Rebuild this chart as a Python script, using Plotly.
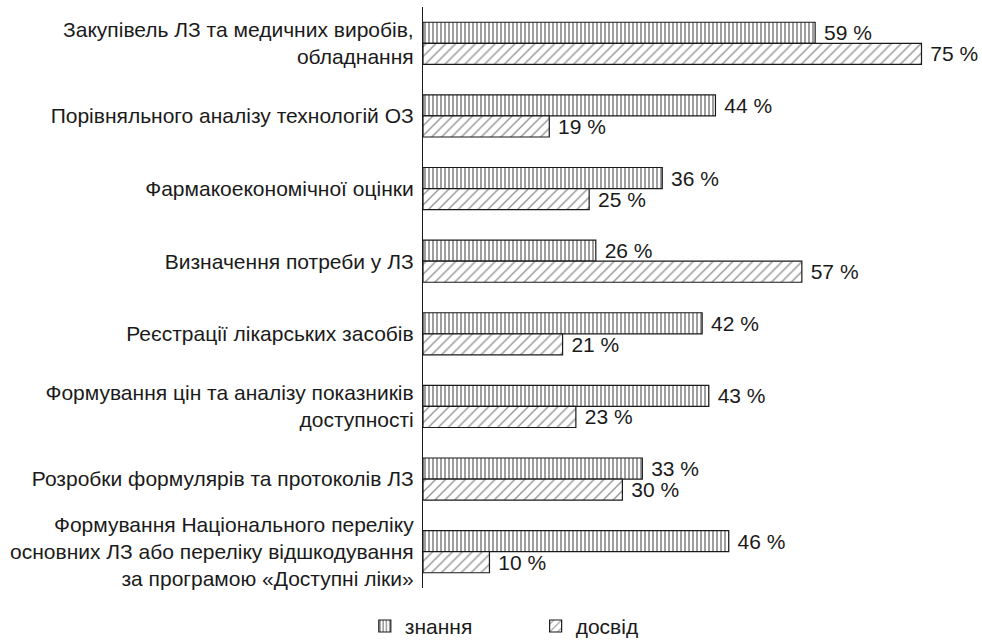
import plotly.graph_objects as go

categories = [
    "Закупівель ЛЗ та медичних виробів,<br>обладнання",
    "Порівняльного аналізу технологій ОЗ",
    "Фармакоекономічної оцінки",
    "Визначення потреби у ЛЗ",
    "Реєстрації лікарських засобів",
    "Формування цін та аналізу показників<br>доступності",
    "Розробки формулярів та протоколів ЛЗ",
    "Формування Національного переліку<br>основних ЛЗ або переліку відшкодування<br>за програмою «Доступні ліки»",
]
knowledge = [59, 44, 36, 26, 42, 43, 33, 46]
experience = [75, 19, 25, 57, 21, 23, 30, 10]
series_names = ["знання", "досвід"]

font_family = "Liberation Sans, Arial, sans-serif"
fs = 21

fig = go.Figure()
fig.add_trace(go.Bar(
    y=categories, x=knowledge, orientation="h", name=series_names[0] + "\u00a0" * 10,
    marker=dict(color="white", line=dict(color="#1a1a1a", width=1.2),
                pattern=dict(shape="|", size=4, solidity=0.45, fgcolor="#2a2a2a", bgcolor="white")),
    text=[f" {v} %" for v in knowledge], textposition="outside", constraintext="none",
    textfont=dict(size=fs, color="#1a1a1a", family=font_family), cliponaxis=False,
))
fig.add_trace(go.Bar(
    y=categories, x=experience, orientation="h", name=series_names[1],
    marker=dict(color="white", line=dict(color="#1a1a1a", width=1.2),
                pattern=dict(shape="/", size=7, solidity=0.2, fgcolor="#2a2a2a", bgcolor="white")),
    text=[f" {v} %" for v in experience], textposition="outside", constraintext="none",
    textfont=dict(size=fs, color="#1a1a1a", family=font_family), cliponaxis=False,
))

fig.update_layout(
    width=982, height=640,
    margin=dict(l=423, r=10, t=7, b=52, autoexpand=False),
    barmode="group", bargap=0.42, bargroupgap=0,
    plot_bgcolor="white", paper_bgcolor="white",
    font=dict(family=font_family, size=fs, color="#1a1a1a"),
    xaxis=dict(range=[0, 82.6], visible=False, showgrid=False, zeroline=False),
    yaxis=dict(autorange="reversed", showline=True, linecolor="#1a1a1a", linewidth=1.2,
               ticks="", showgrid=False, ticklabelstandoff=4,
               tickfont=dict(size=fs, family=font_family, color="#1a1a1a")),
    legend=dict(orientation="h", x=-0.106, xanchor="left", y=-0.066, yanchor="middle",
                font=dict(size=fs, family=font_family), itemwidth=30),
    showlegend=True,
)

fig.write_html("out.html")
